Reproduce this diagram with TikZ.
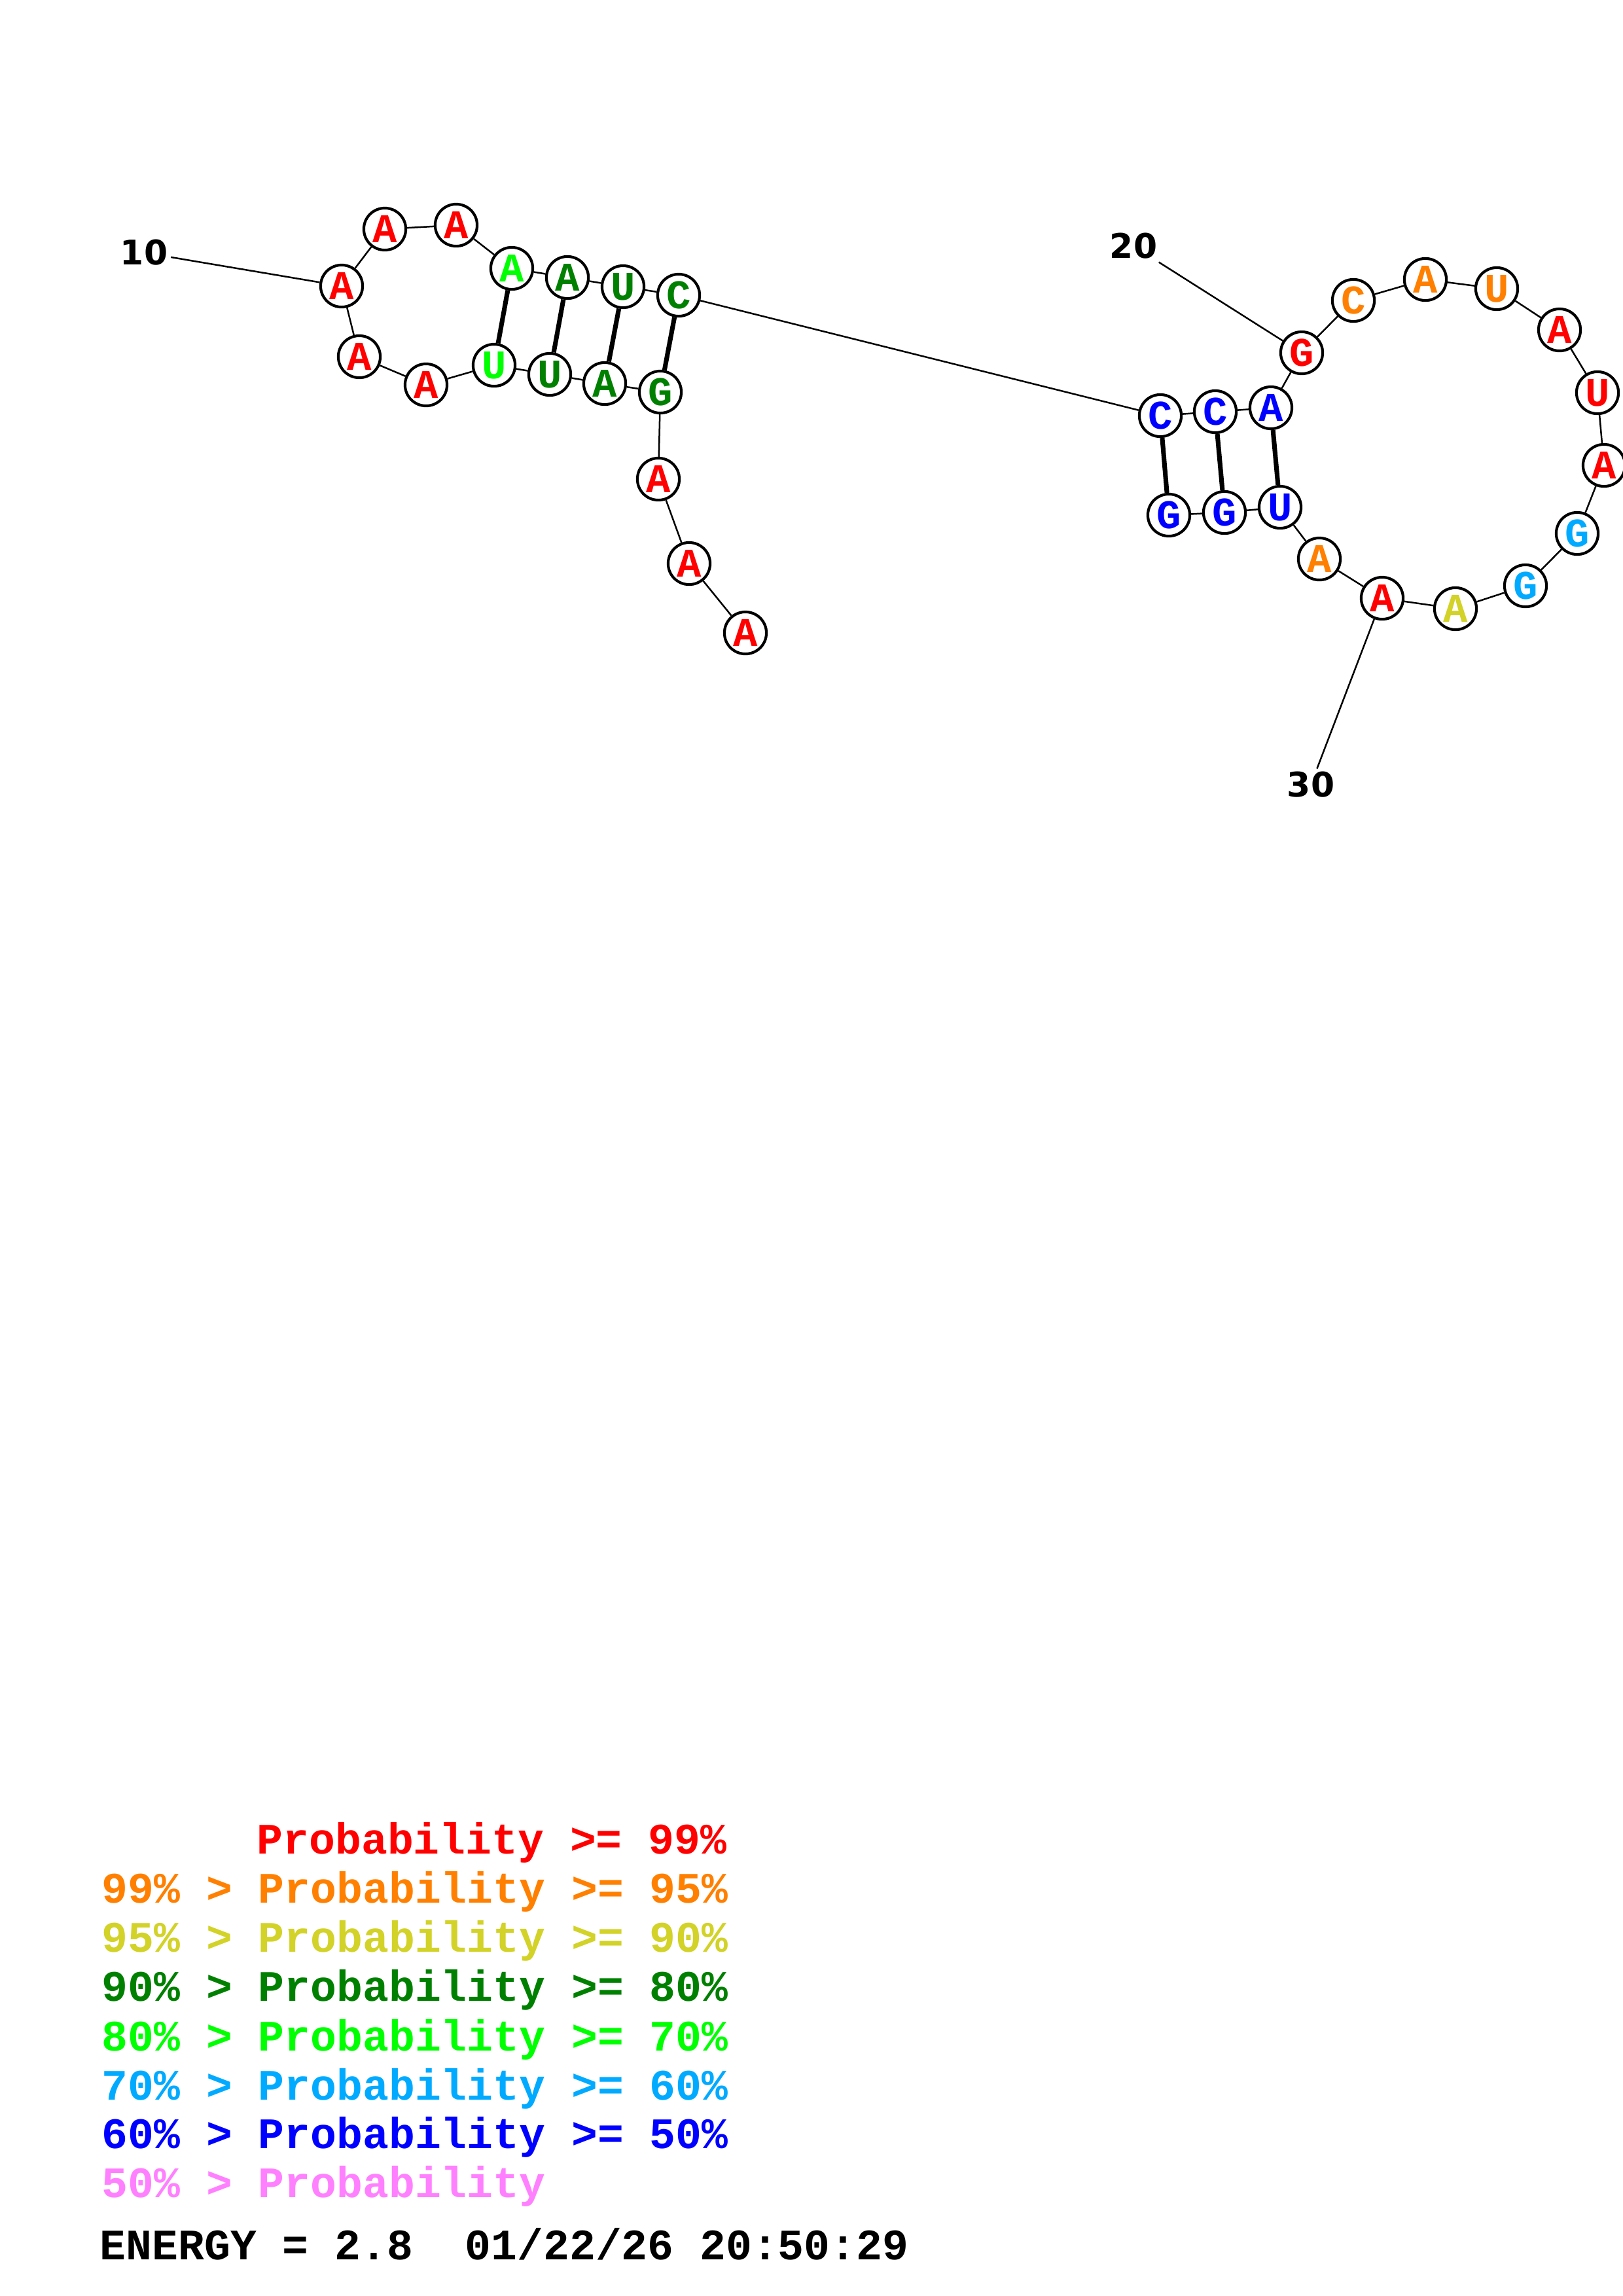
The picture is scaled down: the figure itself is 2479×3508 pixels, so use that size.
\documentclass[tikz,border=0pt]{standalone}
\usepackage{fontspec}
\newfontfamily\monob{Liberation Mono}
\newfontfamily\sansb{DejaVu Sans}
\definecolor{cred}{RGB}{255,0,0}
\definecolor{corange}{RGB}{255,128,0}
\definecolor{cyellow}{RGB}{210,210,40}
\definecolor{cdgreen}{RGB}{0,128,0}
\definecolor{cgreen}{RGB}{0,255,0}
\definecolor{clblue}{RGB}{0,170,255}
\definecolor{cblue}{RGB}{0,0,255}
\definecolor{cpink}{RGB}{255,128,255}
\tikzset{
  base/.style={circle, draw, line width=1bp, fill=white, minimum size=15.4bp, inner sep=0pt,
    font=\monob\bfseries\fontsize{15}{15}\selectfont},
  bb/.style={line width=0.6bp},
  pairline/.style={line width=1.7bp},
  idx/.style={font=\sansb\bfseries\fontsize{12.5}{12.5}\selectfont, inner sep=1bp},
  leg/.style={anchor=base west, inner sep=0pt, font=\monob\bfseries\fontsize{16}{16}\selectfont}
}
\begin{document}
\begin{tikzpicture}[x=0.24bp,y=-0.24bp]
\useasboundingbox (0,0) rectangle (2479,3508);
% nucleotides
\node[base,text=cred] (n1) at (1139,967) {A};
\node[base,text=cred] (n2) at (1053,861) {A};
\node[base,text=cred] (n3) at (1006,732) {A};
\node[base,text=cdgreen] (n4) at (1009,599) {G};
\node[base,text=cdgreen] (n5) at (924,586) {A};
\node[base,text=cdgreen] (n6) at (840,572) {U};
\node[base,text=cgreen] (n7) at (755,558) {U};
\node[base,text=cred] (n8) at (651,588) {A};
\node[base,text=cred] (n9) at (549,545) {A};
\node[base,text=cred] (n10) at (522,437) {A};
\node[base,text=cred] (n11) at (588,350) {A};
\node[base,text=cred] (n12) at (697,344) {A};
\node[base,text=cgreen] (n13) at (782,410) {A};
\node[base,text=cdgreen] (n14) at (867,424) {A};
\node[base,text=cdgreen] (n15) at (952,438) {U};
\node[base,text=cdgreen] (n16) at (1037,451) {C};
\node[base,text=cblue] (n17) at (1773,635) {C};
\node[base,text=cblue] (n18) at (1857,629) {C};
\node[base,text=cblue] (n19) at (1942,623) {A};
\node[base,text=cred] (n20) at (1989,539) {G};
\node[base,text=corange] (n21) at (2068,459) {C};
\node[base,text=corange] (n22) at (2178,427) {A};
\node[base,text=corange] (n23) at (2287,441) {U};
\node[base,text=cred] (n24) at (2383,504) {A};
\node[base,text=cred] (n25) at (2441,600) {U};
\node[base,text=cred] (n26) at (2451,711) {A};
\node[base,text=clblue] (n27) at (2410,815) {G};
\node[base,text=clblue] (n28) at (2331,895) {G};
\node[base,text=cyellow] (n29) at (2224,930) {A};
\node[base,text=cred] (n30) at (2112,914) {A};
\node[base,text=corange] (n31) at (2016,854) {A};
\node[base,text=cblue] (n32) at (1956,775) {U};
\node[base,text=cblue] (n33) at (1871,783) {G};
\node[base,text=cblue] (n34) at (1786,787) {G};
% backbone
\foreach \a/\b in {1/2,2/3,3/4,4/5,5/6,6/7,7/8,8/9,9/10,10/11,11/12,12/13,13/14,14/15,15/16,16/17,17/18,18/19,19/20,20/21,21/22,22/23,23/24,24/25,25/26,26/27,27/28,28/29,29/30,30/31,31/32,32/33,33/34}
  \draw[bb] (n\a) -- (n\b);
% pairs
\foreach \a/\b in {4/16,5/15,6/14,7/13,17/34,18/33,19/32}
  \draw[pairline] (n\a) -- (n\b);
% index labels
\node[idx] (l10) at (220,386) {10};
\node[idx] (l20) at (1732,376) {20};
\node[idx] (l30) at (2003,1199) {30};
\draw[bb] (l10) -- (n10);
\draw[bb] (l20) -- (n20);
\draw[bb] (l30) -- (n30);
% legend
\node[leg,text=cred] (g1) at (392,2832) {Probability >= 99\%};
\node[leg,text=corange] (g2) at (155,2907) {99\% > Probability >= 95\%};
\node[leg,text=cyellow] (g3) at (155,2982) {95\% > Probability >= 90\%};
\node[leg,text=cdgreen] (g4) at (155,3057) {90\% > Probability >= 80\%};
\node[leg,text=cgreen] (g5) at (155,3133) {80\% > Probability >= 70\%};
\node[leg,text=clblue] (g6) at (155,3208) {70\% > Probability >= 60\%};
\node[leg,text=cblue] (g7) at (155,3282) {60\% > Probability >= 50\%};
\node[leg,text=cpink] (g8) at (155,3357) {50\% > Probability};
\node[leg,text=black] (en) at (152,3452) {ENERGY = 2.8~~01/22/26 20:50:29};
\end{tikzpicture}
\end{document}
